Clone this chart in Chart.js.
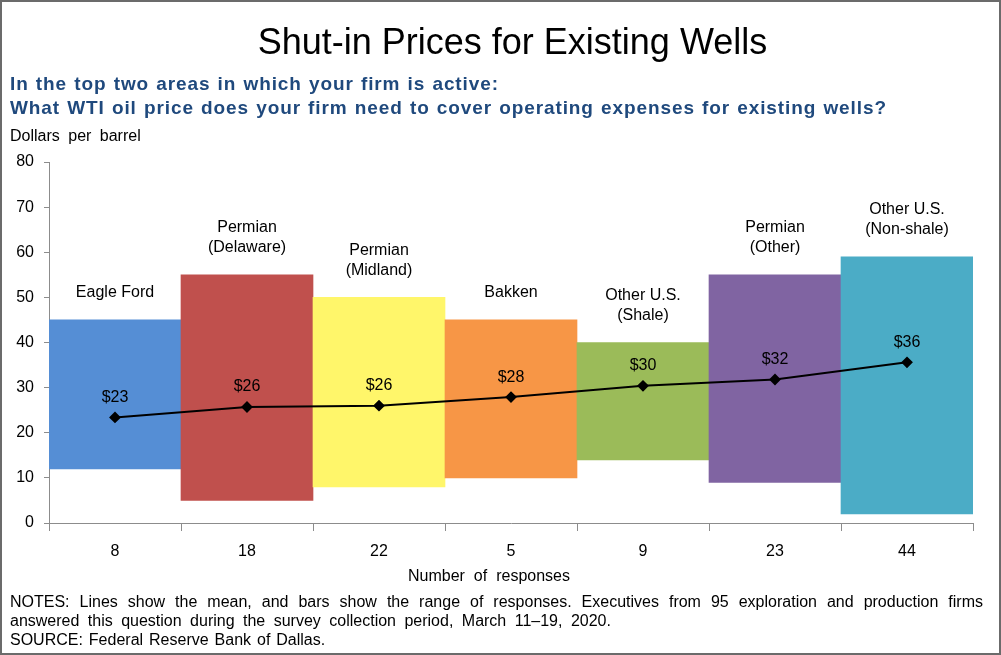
<!DOCTYPE html>
<html>
<head>
<meta charset="utf-8">
<title>Shut-in Prices for Existing Wells</title>
<script src="https://cdn.jsdelivr.net/npm/chart.js@4.4.1/dist/chart.umd.min.js"></script>
<style>
  body { margin: 0; background: #fff; font-family: Arial, "Liberation Sans", sans-serif; color: #000; }
  #wrap { position: relative; width: 1001px; height: 655px; overflow: hidden; }
  #chart { position: absolute; left: 0; top: 0; }
  #frame { position: absolute; left: 0; top: 0; width: 1001px; height: 655px; box-sizing: border-box; border: 2px solid #6b6b6b; pointer-events: none; }
  .txt { position: absolute; white-space: nowrap; }
  .title { left: 0; width: 1025px; top: 22px; text-align: center; font-size: 36px; line-height: 40px; }
  .sub { left: 10px; font-size: 19px; line-height: 24px; font-weight: bold; color: #1f497d; letter-spacing: 0.9px; word-spacing: 1px; }
  .unit { left: 10px; top: 126px; font-size: 16px; line-height: 20px; word-spacing: 4px; }
  .xtitle { left: 389px; width: 200px; top: 566px; text-align: center; font-size: 16px; line-height: 20px; word-spacing: 4.5px; }
  .note { left: 10px; font-size: 16px; line-height: 19px; word-spacing: 3px; }
  .justify { width: 973px; text-align: justify; text-align-last: justify; word-spacing: 0; }
</style>
</head>
<body>
<div id="wrap">
  <canvas id="chart" width="1001" height="655"></canvas>
  <div class="txt title">Shut-in Prices for Existing Wells</div>
  <div class="txt sub" style="top:72px">In the top two areas in which your firm is active:</div>
  <div class="txt sub" style="top:96px">What WTI oil price does your firm need to cover operating expenses for existing wells?</div>
  <div class="txt unit">Dollars per barrel</div>
  <div class="txt xtitle">Number of responses</div>
  <div class="txt note justify" style="top:592px">NOTES: Lines show the mean, and bars show the range of responses. Executives from 95 exploration and production firms</div>
  <div class="txt note" style="top:611px; word-spacing:4px">answered this question during the survey collection period, March 11&ndash;19, 2020.</div>
  <div class="txt note" style="top:630px; word-spacing:1.5px">SOURCE: Federal Reserve Bank of Dallas.</div>
  <div id="frame"></div>
</div>
<script>
// number of responses per area (x-axis labels)
const responses = ['8', '18', '22', '5', '9', '23', '44'];
// area names drawn above each bar
const regions = [
  ['Eagle Ford'],
  ['Permian', '(Delaware)'],
  ['Permian', '(Midland)'],
  ['Bakken'],
  ['Other U.S.', '(Shale)'],
  ['Permian', '(Other)'],
  ['Other U.S.', '(Non-shale)']
];
// range of responses, dollars per barrel
const lows  = [12, 5, 8, 10, 14, 9, 2];
const highs = [45, 55, 50, 45, 40, 55, 59];
// mean response
const means = [23.4, 25.7, 26.0, 27.9, 30.4, 31.8, 35.6];
const yTicks = [0, 10, 20, 30, 40, 50, 60, 70, 80];

const colors = ['#558ed5', '#c0504d', '#fff66a', '#f79646', '#9bbb59', '#8064a2', '#4bacc6'];
const axisGray = '#8c8c8c';
const font = 'Arial, "Liberation Sans", sans-serif';

const labelPlugin = {
  id: 'rangeLabels',
  afterDatasetsDraw(chart) {
    const ctx = chart.ctx;
    const bars = chart.getDatasetMeta(1).data;
    const points = chart.getDatasetMeta(0).data;
    ctx.save();
    ctx.fillStyle = '#000';
    ctx.textAlign = 'center';
    ctx.textBaseline = 'middle';
    ctx.font = '16px ' + font;
    bars.forEach(function(bar, i) {
      const top = Math.min(bar.y, bar.base);
      const lines = regions[i];
      lines.forEach(function(line, j) {
        ctx.fillText(line, bar.x, top - 27 - (lines.length - 1 - j) * 20);
      });
    });
    points.forEach(function(pt, i) {
      ctx.fillText('$' + Math.round(means[i]), pt.x, pt.y - 20);
    });
    ctx.restore();
  }
};

new Chart(document.getElementById('chart'), {
  data: {
    labels: responses,
    datasets: [{
      type: 'line',
      order: 0,
      data: means,
      borderColor: '#000',
      borderWidth: 2,
      pointStyle: 'rectRot',
      pointRadius: 4.5,
      pointBackgroundColor: '#000',
      pointBorderColor: '#000',
      tension: 0
    }, {
      type: 'bar',
      order: 1,
      data: lows.map(function(lo, i) { return [lo, highs[i]]; }),
      backgroundColor: colors,
      borderWidth: 0,
      barPercentage: 1,
      categoryPercentage: 1
    }]
  },
  options: {
    responsive: false,
    animation: false,
    layout: { padding: { top: 162, left: 4, right: 28, bottom: 70 } },
    plugins: {
      legend: { display: false },
      tooltip: { enabled: false }
    },
    scales: {
      x: {
        type: 'category',
        offset: true,
        grid: { display: true, offset: true, drawOnChartArea: false, tickLength: 8, color: axisGray },
        border: { color: axisGray },
        ticks: { color: '#000', font: { family: font, size: 16 }, padding: 11, maxRotation: 0 },
        afterFit: function(scale) { scale.height = 62; }
      },
      y: {
        min: 0,
        max: 80,
        afterBuildTicks: function(scale) { scale.ticks = yTicks.map(function(v) { return { value: v }; }); },
        grid: { display: true, drawOnChartArea: false, tickLength: 5, color: axisGray },
        border: { color: axisGray },
        ticks: { color: '#000', font: { family: font, size: 16 }, padding: 10 },
        afterFit: function(scale) { scale.width = 45; }
      }
    }
  },
  plugins: [labelPlugin]
});
</script>
</body>
</html>
